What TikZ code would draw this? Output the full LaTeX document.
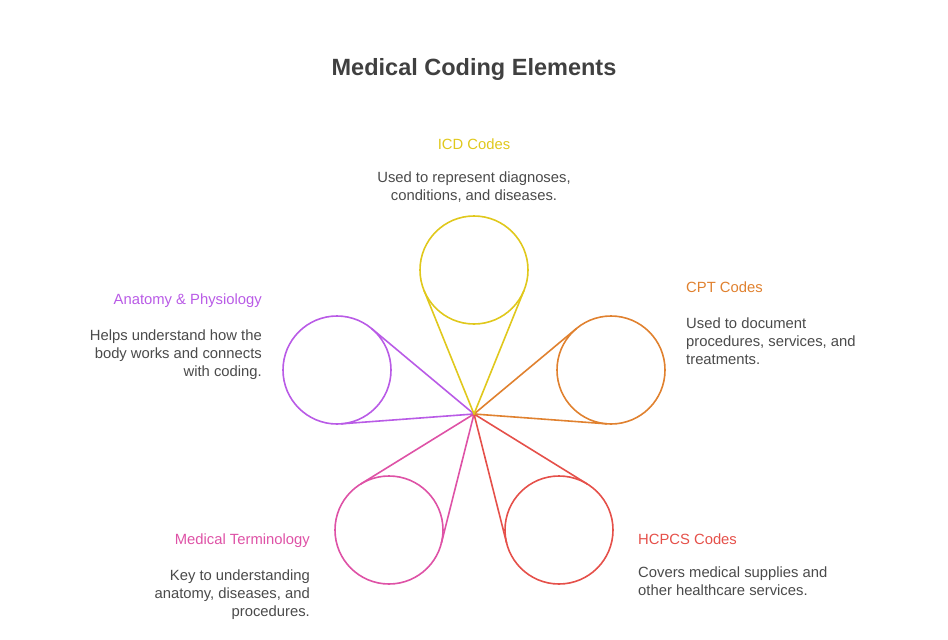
\documentclass[tikz,border=0pt]{standalone}
\usepackage{fontspec}
\setmainfont{Liberation Sans}
\usetikzlibrary{calc}
\definecolor{icdcol}{HTML}{E0C81C}
\definecolor{cptcol}{HTML}{E0812F}
\definecolor{hcpcscol}{HTML}{E5504A}
\definecolor{termcol}{HTML}{DE52A6}
\definecolor{anatcol}{HTML}{B95BE6}
\definecolor{bodytext}{HTML}{4A4A4A}
\definecolor{titletext}{HTML}{404040}
\begin{document}
\begin{tikzpicture}[
        x=1pt, y=-1pt,
        every node/.style={inner sep=0pt, text=bodytext, font=\fontsize{14.8}{17.8}\selectfont},
        ring/.style={draw, circle, line width=1.6pt, minimum size=108pt, outer sep=0pt},
        spoke/.style={line width=1.6pt, line join=round},
        head/.style={font=\fontsize{14.8}{17.8}\selectfont},
        title/.style={font=\fontsize{23.5}{28}\selectfont\bfseries, text=titletext}
    ]
    \useasboundingbox (0,0) rectangle (948,640);
    \node[title, anchor=north] (heading) at (474,58) {Medical Coding Elements};
    % centre of the star and the five rings
    \coordinate (hub) at (474,414);
    \node[ring, draw=icdcol] (icd) at (474,270) {};
    \node[ring, draw=cptcol] (cpt) at (611,370) {};
    \node[ring, draw=hcpcscol] (hcpcs) at (559,530) {};
    \node[ring, draw=termcol] (term) at (389,530) {};
    \node[ring, draw=anatcol] (anat) at (337,370) {};
    \foreach \ringname/\ringcol in {anat/anatcol, term/termcol, hcpcs/hcpcscol, cpt/cptcol, icd/icdcol}
        \draw[spoke, \ringcol] (tangent cs:node=\ringname,point={(hub)},solution=1) -- (hub)
            -- (tangent cs:node=\ringname,point={(hub)},solution=2);
    % labels
    \node[head, text=icdcol, anchor=north] (icdhead) at (474,138.5) {ICD Codes};
    \node[anchor=north, align=center] (icdtext) at (474,171.5) {Used to represent diagnoses,\\conditions, and diseases.};
    \node[head, text=cptcol, anchor=north west] (cpthead) at (686,281.5) {CPT Codes};
    \node[anchor=north west, align=left] (cpttext) at (686,317.5) {Used to document\\procedures, services, and\\treatments.};
    \node[head, text=hcpcscol, anchor=north west] (hcpcshead) at (638,533.5) {HCPCS Codes};
    \node[anchor=north west, align=left] (hcpcstext) at (638,566.5) {Covers medical supplies and\\other healthcare services.};
    \node[head, text=termcol, anchor=north east] (termhead) at (310,533.5) {Medical Terminology};
    \node[anchor=north east, align=right] (termtext) at (310,569.5) {Key to understanding\\anatomy, diseases, and\\procedures.};
    \node[head, text=anatcol, anchor=north east] (anathead) at (262,293.5) {Anatomy \& Physiology};
    \node[anchor=north east, align=right] (anattext) at (262,329.5) {Helps understand how the\\body works and connects\\with coding.};
\end{tikzpicture}
\end{document}
